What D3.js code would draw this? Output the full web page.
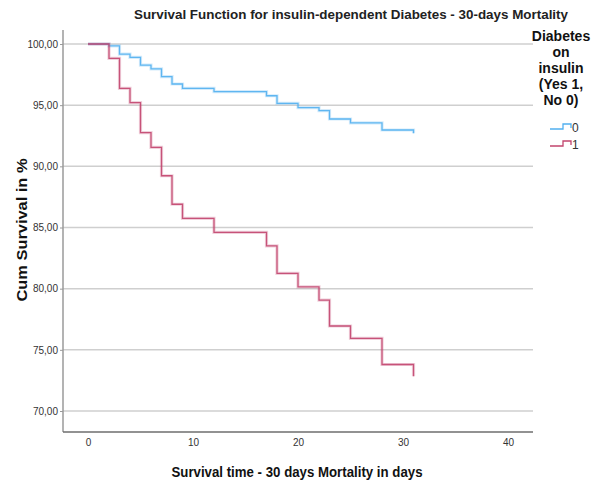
<!DOCTYPE html>
<html>
<head>
<meta charset="utf-8">
<script src="https://cdn.jsdelivr.net/npm/d3@7/dist/d3.min.js"></script>
<style>
  html, body { margin: 0; padding: 0; background: #fff; }
  svg { display: block; font-family: "Liberation Sans", Arial, sans-serif; }
</style>
</head>
<body>
<svg id="chart" width="597" height="484"></svg>
<script>
// Kaplan-Meier estimates (cumulative survival, %) by day of event
const days = [0, 2, 3, 4, 5, 6, 7, 8, 9, 12, 17, 18, 20, 22, 23, 25, 28, 31];
const survivalNoInsulin = [100, 99.84, 99.18, 98.9, 98.28, 97.96, 97.33, 96.73, 96.38, 96.1, 95.77, 95.15, 94.8, 94.55, 93.87, 93.56, 92.97, 92.7];
const survivalInsulin = [100, 98.83, 96.38, 95.2, 92.75, 91.55, 89.23, 86.9, 85.75, 84.6, 83.5, 81.25, 80.15, 79.07, 76.95, 75.94, 73.8, 72.85];
const xTicks = [0, 10, 20, 30, 40];
const yTicks = [70, 75, 80, 85, 90, 95, 100];
const groups = [
  { key: "0", values: survivalNoInsulin, color: "#52b0f0" },
  { key: "1", values: survivalInsulin, color: "#c2456e" }
];

const svg = d3.select("#chart");
const frame = { left: 63, right: 533, top: 30, bottom: 432 };

const x = d3.scaleLinear().domain([0, 40]).range([88, 508]);
const y = d3.scaleLinear().domain([70, 100]).range([411, 44]);

// horizontal gridlines
svg.append("g").selectAll("line").data(yTicks).join("line")
  .attr("x1", frame.left).attr("x2", frame.right)
  .attr("y1", d => y(d)).attr("y2", d => y(d))
  .attr("stroke", "#cfcfcf").attr("stroke-width", 1.5);

// axis frame lines
svg.append("line").attr("x1", frame.left).attr("x2", frame.left)
  .attr("y1", frame.top).attr("y2", frame.bottom)
  .attr("stroke", "#9a9a9a").attr("stroke-width", 1.5);
svg.append("line").attr("x1", frame.left).attr("x2", frame.right)
  .attr("y1", frame.bottom).attr("y2", frame.bottom)
  .attr("stroke", "#6e6e6e").attr("stroke-width", 1.5);

// y axis
const yAxis = d3.axisLeft(y).tickValues(yTicks).tickSize(3)
  .tickFormat(d => d3.format(".2f")(d).replace(".", ","));
const gy = svg.append("g").attr("transform", `translate(${frame.left},0)`).call(yAxis);
gy.select(".domain").remove();
gy.selectAll(".tick line").attr("stroke", "#9a9a9a");
gy.selectAll(".tick text").attr("font-size", 10).attr("fill", "#333")
  .attr("font-family", "Liberation Sans Narrow, Liberation Sans, Arial, sans-serif").attr("x", -5);

// x axis
const xAxis = d3.axisBottom(x).tickValues(xTicks).tickSize(0);
const gx = svg.append("g").attr("transform", `translate(0,${frame.bottom})`).call(xAxis);
gx.select(".domain").remove();
gx.selectAll(".tick text").attr("font-size", 10).attr("fill", "#333")
  .attr("font-family", "Liberation Sans Narrow, Liberation Sans, Arial, sans-serif").attr("dy", "1.1em");

// survival step curves
const line = d3.line().curve(d3.curveStepAfter)
  .x((d, i) => x(days[i])).y(d => y(d));

groups.forEach(g => {
  svg.append("path").datum(g.values).attr("d", line)
    .attr("fill", "none").attr("stroke", g.color).attr("stroke-width", 3.2).attr("stroke-opacity", 0.25);
  svg.append("path").datum(g.values).attr("d", line)
    .attr("fill", "none").attr("stroke", g.color).attr("stroke-width", 1.3).attr("stroke-opacity", 0.9);
});

// titles
svg.append("text").attr("x", 351).attr("y", 19).attr("text-anchor", "middle")
  .attr("font-size", 13.5).attr("font-weight", "bold").attr("fill", "#222")
  .attr("textLength", 434).attr("lengthAdjust", "spacingAndGlyphs")
  .text("Survival Function for insulin-dependent Diabetes - 30-days Mortality");

svg.append("text").attr("transform", "translate(27,230) rotate(-90)").attr("text-anchor", "middle")
  .attr("font-size", 15).attr("font-weight", "bold").attr("fill", "#111")
  .attr("textLength", 143).attr("lengthAdjust", "spacingAndGlyphs")
  .text("Cum Survival in %");

svg.append("text").attr("x", 297).attr("y", 477).attr("text-anchor", "middle")
  .attr("font-size", 15).attr("font-weight", "bold").attr("fill", "#111")
  .attr("textLength", 251).attr("lengthAdjust", "spacingAndGlyphs")
  .text("Survival time - 30 days Mortality in days");

// legend
const legendTitle = ["Diabetes", "on", "insulin", "(Yes 1,", "No 0)"];
svg.append("g").selectAll("text").data(legendTitle).join("text")
  .attr("x", 561).attr("y", (d, i) => 41 + i * 16).attr("text-anchor", "middle")
  .attr("font-size", 14).attr("font-weight", "bold").attr("fill", "#111")
  .text(d => d);

groups.forEach((g, i) => {
  const yy = 129 + i * 17;
  svg.append("path")
    .attr("d", `M550,${yy} H563 V${yy - 5} H571 V${yy - 1}`)
    .attr("fill", "none").attr("stroke", g.color).attr("stroke-width", 1.3);
  svg.append("text").attr("x", 572).attr("y", yy + 3)
    .attr("font-size", 12).attr("fill", "#333")
    .attr("font-family", "Liberation Sans Narrow, Liberation Sans, Arial, sans-serif")
    .text(g.key);
});
</script>
</body>
</html>
